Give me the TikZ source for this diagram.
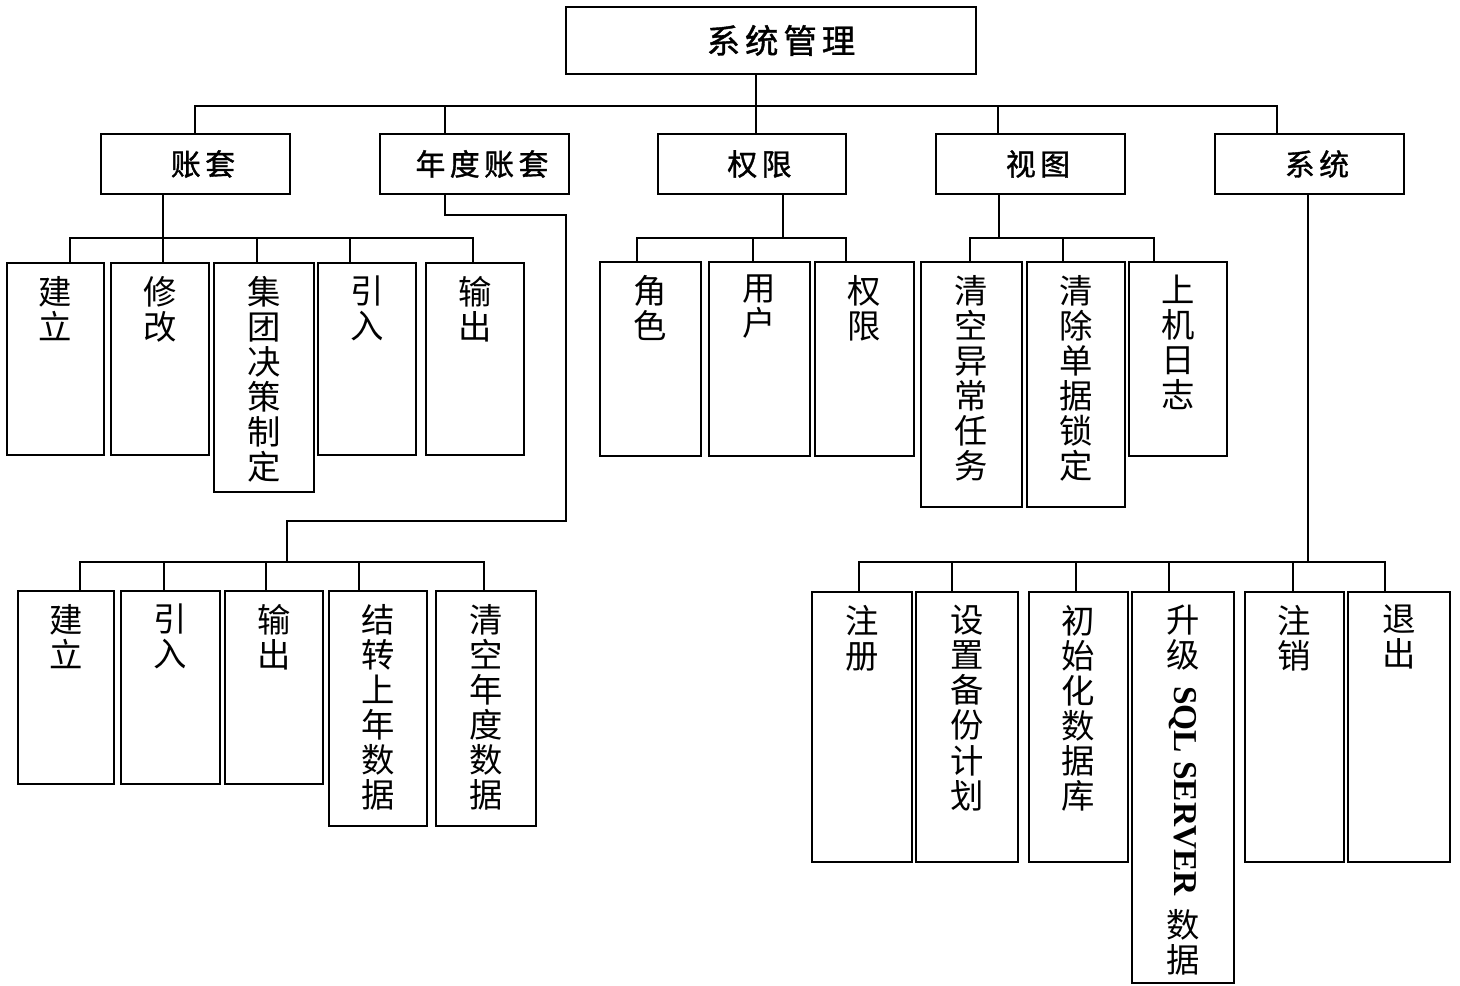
\documentclass[tikz,border=0pt]{standalone}
\usepackage{fontspec}
\usepackage{graphicx}
\usetikzlibrary{positioning,fit}
\newfontfamily\cjk{Noto Sans CJK SC}
\newfontfamily\cjkgian{Noto Sans CJK SC}[LetterSpace=15, FakeBold=1.2]
\newfontfamily\sqlfont{Liberation Serif}

\begin{document}
\begin{tikzpicture}[x=0.02cm, y=-0.02cm,
    hop/.style={draw, line width=1.5pt, inner sep=0pt},
    tieude/.style={inner sep=0pt, font=\cjkgian\fontsize{17}{20}\selectfont},
    chu/.style={anchor=north, align=center, inner sep=0pt, font=\cjk\fontsize{19}{20}\selectfont},
    noi/.style={line width=1.3pt, line cap=rect}]
    \useasboundingbox (0,0) rectangle (1460,986);

    % Khung gốc
    \node[hop, fit={(566,7) (976,74)}] (goc) {};
    \node[tieude, font=\cjkgian\fontsize{19}{22}\selectfont, xshift=0.2cm] (goc-t) at (goc.center) {系统管理};

    % Các khung cấp 1
    \node[hop, fit={(101,134) (290,194)}] (zt) {};
    \node[hop, fit={(380,134) (569,194)}] (nd) {};
    \node[hop, fit={(658,134) (846,194)}] (qx) {};
    \node[hop, fit={(936,134) (1125,194)}] (st) {};
    \node[hop, fit={(1215,134) (1404,194)}] (xt) {};
    \foreach \n/\chu in {zt/账套, nd/年度账套, qx/权限, st/视图, xt/系统}
        \node[tieude, xshift=0.15cm] (\n-t) at (\n.center) {\chu};

    % Đường nối gốc -- cấp 1
    \coordinate (b1) at (195,106);
    \coordinate (b2) at (445,106);
    \coordinate (b3) at (756,106);
    \coordinate (b4) at (998,106);
    \coordinate (b5) at (1277,106);
    \draw[noi] (goc.south -| b3) -- (b3);
    \draw[noi] (b1) -- (b5);
    \foreach \c/\n in {b1/zt, b2/nd, b3/qx, b4/st, b5/xt}
        \draw[noi] (\c) -- (\n.north -| \c);

    % Các khung lá (tên/x trái/y trên/x phải/y dưới/x nối/y nối/chữ)
    \foreach \ten/\xa/\ya/\xb/\yb/\xd/\yd/\chu in {
        z1/7/263/104/455/70/238/{建\\立},
        z2/111/263/209/455/163/238/{修\\改},
        z3/214/263/314/492/257/238/{集\\团\\决\\策\\制\\定},
        z4/318/263/416/455/350/238/{引\\入},
        z5/426/263/524/455/473/238/{输\\出},
        y1/18/591/114/784/80/562/{建\\立},
        y2/121/591/220/784/164/562/{引\\入},
        y3/225/591/323/784/266/562/{输\\出},
        y4/329/591/427/826/359/562/{结\\转\\上\\年\\数\\据},
        y5/436/591/536/826/484/562/{清\\空\\年\\度\\数\\据},
        q1/600/262/701/456/637/238/{角\\色},
        q2/709/262/810/456/753/238/{用\\户},
        q3/815/262/914/456/846/238/{权\\限},
        s1/921/262/1022/507/970/238/{清\\空\\异\\常\\任\\务},
        s2/1027/262/1125/507/1063/238/{清\\除\\单\\据\\锁\\定},
        s3/1129/262/1227/456/1154/238/{上\\机\\日\\志},
        x1/812/592/912/862/859/562/{注\\册},
        x2/916/592/1018/862/952/562/{设\\置\\备\\份\\计\\划},
        x3/1029/592/1128/862/1076/562/{初\\始\\化\\数\\据\\库},
        x4/1132/592/1234/983/1169/562/{升\\级\\[8pt]\rotatebox[origin=c]{-90}{\sqlfont\bfseries SQL SERVER}\\[7pt]数\\据},
        x5/1245/592/1344/862/1293/562/{注\\销},
        x6/1348/592/1450/862/1385/562/{退\\出}}
    {
        \node[hop, fit={(\xa,\ya) (\xb,\yb)}] (\ten) {};
        \node[chu, below=0.28cm of \ten.north] (\ten-t) {\chu};
        \coordinate (\ten-d) at (\xd,\yd);
        \draw[noi] (\ten-d) -- (\ten.north -| \ten-d);
    }

    % Nhánh 账套
    \draw[noi] (zt.south -| z2-d) -- (z2-d);
    \draw[noi] (z1-d) -- (z5-d);

    % Nhánh 年度账套 (đường vòng xuống dưới)
    \coordinate (nd-a) at (566,215);
    \coordinate (nd-b) at (287,521);
    \coordinate (nd-c) at (287,562);
    \draw[noi] (nd.south -| b2) |- (nd-a) |- (nd-b) -- (nd-c);
    \draw[noi] (y1-d) -- (y5-d);

    % Nhánh 权限
    \coordinate (qx-c) at (783,238);
    \draw[noi] (qx.south -| qx-c) -- (qx-c);
    \draw[noi] (q1-d) -- (q3-d);

    % Nhánh 视图
    \coordinate (st-c) at (999,238);
    \draw[noi] (st.south -| st-c) -- (st-c);
    \draw[noi] (s1-d) -- (s3-d);

    % Nhánh 系统
    \coordinate (xt-c) at (1308,562);
    \draw[noi] (xt.south -| xt-c) -- (xt-c);
    \draw[noi] (x1-d) -- (x6-d);
\end{tikzpicture}
\end{document}
